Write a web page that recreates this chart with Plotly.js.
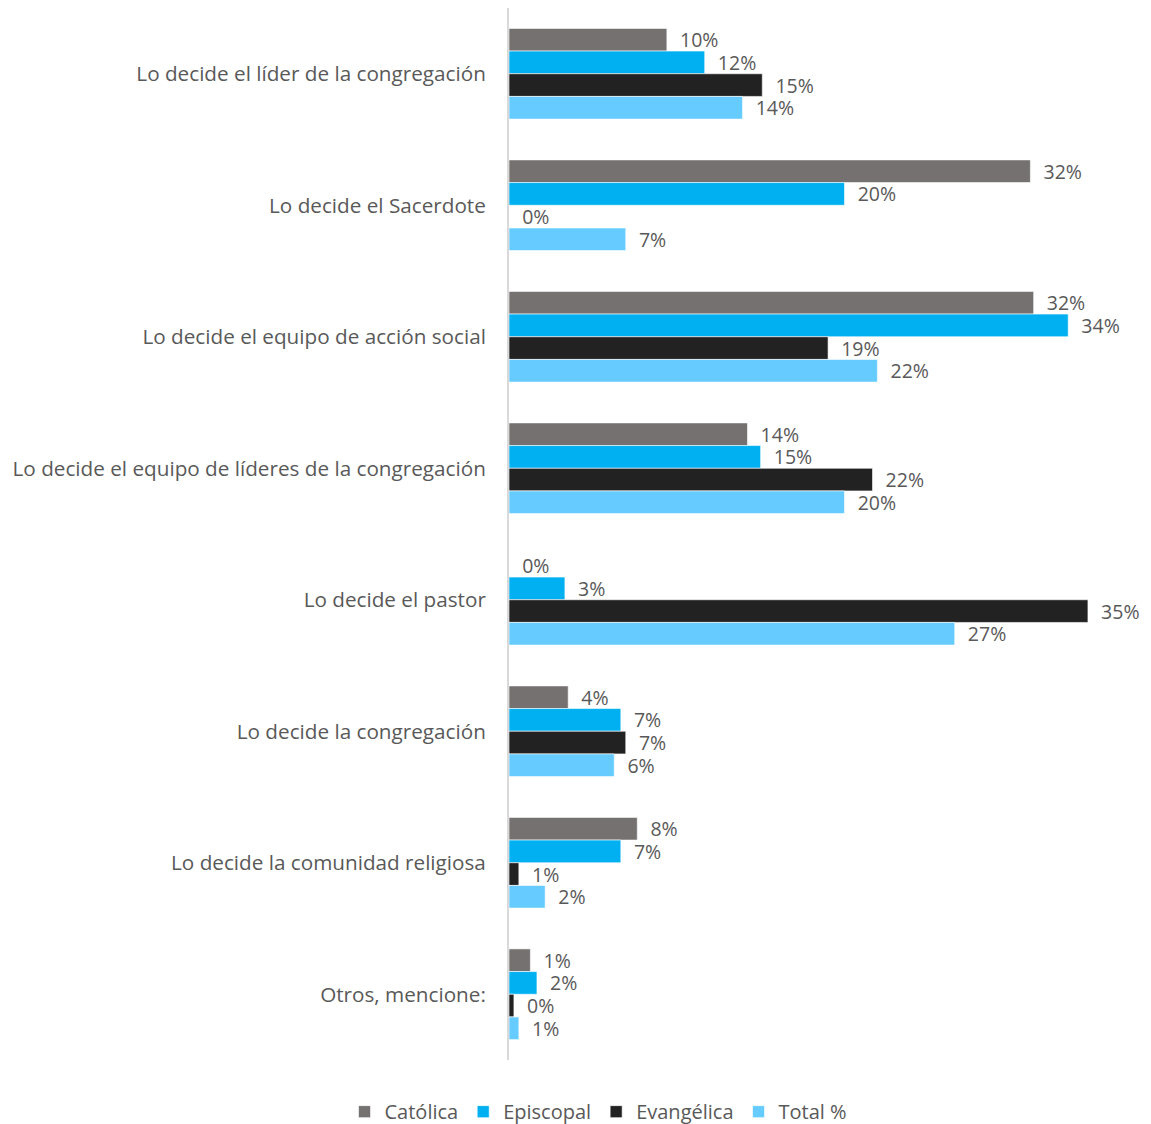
<!DOCTYPE html>
<html>
<head>
<meta charset="utf-8">
<script src="https://cdn.plot.ly/plotly-3.0.1.min.js"></script>
<style>html,body{margin:0;padding:0;background:#fff;}#chart{width:1151px;height:1124px;}</style>
</head>
<body>
<div id="chart"></div>
<script>
const categories = [
  "Lo decide el líder de la congregación",
  "Lo decide el Sacerdote",
  "Lo decide el equipo de acción social",
  "Lo decide el equipo de líderes de la congregación",
  "Lo decide el pastor",
  "Lo decide la congregación",
  "Lo decide la comunidad religiosa",
  "Otros, mencione:"
];
const seriesNames = ["Católica", "Episcopal", "Evangélica", "Total %"];
const catolica   = [0.096, 0.317, 0.319, 0.145, 0.000, 0.036, 0.078, 0.013];
const episcopal  = [0.119, 0.204, 0.340, 0.153, 0.034, 0.068, 0.068, 0.017];
const evangelica = [0.154, 0.000, 0.194, 0.221, 0.352, 0.071, 0.006, 0.003];
const total      = [0.142, 0.071, 0.224, 0.204, 0.271, 0.064, 0.022, 0.006];
const colors = ["#767171", "#00B0F0", "#222222", "#66CCFF"];

const seriesValues = [catolica, episcopal, evangelica, total];
const pad = "\u00a0\u00a0";
const traces = seriesValues.map((vals, i) => ({
  type: "bar",
  orientation: "h",
  name: seriesNames[i],
  y: categories,
  x: vals,
  marker: {color: colors[i], line: {color: "rgba(255,255,255,0.6)", width: 1}},
  texttemplate: pad + "%{x:.0%}",
  textposition: "outside",
  constraintext: "none",
  cliponaxis: false,
  textfont: {family: "Open Sans, sans-serif", size: 19.5, color: "#595959"},
  hoverinfo: "x+name"
}));

const layout = {
  width: 1151,
  height: 1124,
  margin: {l: 509, r: 17, t: 8, b: 64},
  paper_bgcolor: "#fff",
  plot_bgcolor: "#fff",
  barmode: "group",
  bargap: 0.31,
  bargroupgap: 0,
  font: {family: "Open Sans, sans-serif", size: 20, color: "#595959"},
  xaxis: {range: [0, 0.38], showgrid: false, zeroline: false, showticklabels: false, ticks: "", showline: false},
  yaxis: {autorange: "reversed", showline: true, linecolor: "#d9d9d9", linewidth: 2, ticks: "", ticklabelstandoff: 17,
          tickfont: {family: "Open Sans, sans-serif", size: 20.7, color: "#595959"}, showgrid: false, zeroline: false},
  showlegend: true,
  legend: {orientation: "h", xref: "container", x: 0.52, xanchor: "center", yref: "container", y: 0.011, yanchor: "middle",
           font: {family: "Open Sans, sans-serif", size: 20, color: "#595959"}, itemwidth: 30, traceorder: "normal"}
};

Plotly.newPlot("chart", traces, layout, {displayModeBar: false, staticPlot: true});
</script>
</body>
</html>
